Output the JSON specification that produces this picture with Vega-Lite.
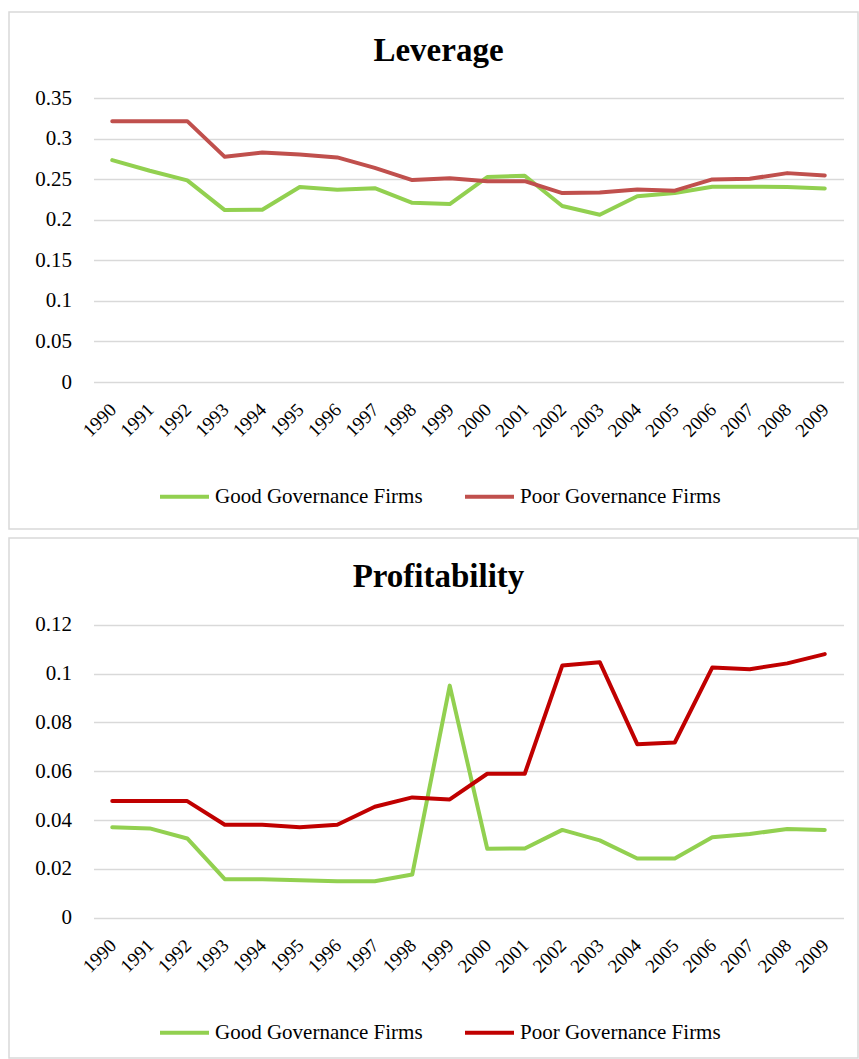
{
  "$schema": "https://vega.github.io/schema/vega-lite/v6.json",
  "padding": {"left": 8, "top": 11, "right": 0, "bottom": 0},
  "background": "white",
  "spacing": 7,
  "config": {
    "font": "Liberation Serif",
    "view": {"stroke": "#d9d9d9", "strokeWidth": 1.5},
    "axis": {"labelFont": "Liberation Serif", "labelColor": "#000000", "domain": false, "ticks": false},
    "legend": {"labelFont": "Liberation Serif", "labelColor": "#000000"},
    "title": {"font": "Liberation Serif", "color": "#000000"}
  },
  "datasets": {
    "leverage": [
      {"Year": "1990", "Group": "Good Governance Firms", "Value": 0.2736},
      {"Year": "1991", "Group": "Good Governance Firms", "Value": 0.2605},
      {"Year": "1992", "Group": "Good Governance Firms", "Value": 0.2486},
      {"Year": "1993", "Group": "Good Governance Firms", "Value": 0.212},
      {"Year": "1994", "Group": "Good Governance Firms", "Value": 0.2125},
      {"Year": "1995", "Group": "Good Governance Firms", "Value": 0.2404},
      {"Year": "1996", "Group": "Good Governance Firms", "Value": 0.237},
      {"Year": "1997", "Group": "Good Governance Firms", "Value": 0.239},
      {"Year": "1998", "Group": "Good Governance Firms", "Value": 0.221},
      {"Year": "1999", "Group": "Good Governance Firms", "Value": 0.2195},
      {"Year": "2000", "Group": "Good Governance Firms", "Value": 0.2528},
      {"Year": "2001", "Group": "Good Governance Firms", "Value": 0.2544},
      {"Year": "2002", "Group": "Good Governance Firms", "Value": 0.217},
      {"Year": "2003", "Group": "Good Governance Firms", "Value": 0.2063},
      {"Year": "2004", "Group": "Good Governance Firms", "Value": 0.229},
      {"Year": "2005", "Group": "Good Governance Firms", "Value": 0.233},
      {"Year": "2006", "Group": "Good Governance Firms", "Value": 0.2408},
      {"Year": "2007", "Group": "Good Governance Firms", "Value": 0.2408},
      {"Year": "2008", "Group": "Good Governance Firms", "Value": 0.2404},
      {"Year": "2009", "Group": "Good Governance Firms", "Value": 0.2387},
      {"Year": "1990", "Group": "Poor Governance Firms", "Value": 0.3217},
      {"Year": "1991", "Group": "Poor Governance Firms", "Value": 0.3217},
      {"Year": "1992", "Group": "Poor Governance Firms", "Value": 0.3217},
      {"Year": "1993", "Group": "Poor Governance Firms", "Value": 0.2777},
      {"Year": "1994", "Group": "Poor Governance Firms", "Value": 0.283},
      {"Year": "1995", "Group": "Poor Governance Firms", "Value": 0.2806},
      {"Year": "1996", "Group": "Poor Governance Firms", "Value": 0.277},
      {"Year": "1997", "Group": "Poor Governance Firms", "Value": 0.264},
      {"Year": "1998", "Group": "Poor Governance Firms", "Value": 0.249},
      {"Year": "1999", "Group": "Poor Governance Firms", "Value": 0.2514},
      {"Year": "2000", "Group": "Poor Governance Firms", "Value": 0.2477},
      {"Year": "2001", "Group": "Poor Governance Firms", "Value": 0.2477},
      {"Year": "2002", "Group": "Poor Governance Firms", "Value": 0.233},
      {"Year": "2003", "Group": "Poor Governance Firms", "Value": 0.2338},
      {"Year": "2004", "Group": "Poor Governance Firms", "Value": 0.2375},
      {"Year": "2005", "Group": "Poor Governance Firms", "Value": 0.236},
      {"Year": "2006", "Group": "Poor Governance Firms", "Value": 0.2498},
      {"Year": "2007", "Group": "Poor Governance Firms", "Value": 0.2506},
      {"Year": "2008", "Group": "Poor Governance Firms", "Value": 0.2576},
      {"Year": "2009", "Group": "Poor Governance Firms", "Value": 0.2547}
    ],
    "profitability": [
      {"Year": "1990", "Group": "Good Governance Firms", "Value": 0.0371},
      {"Year": "1991", "Group": "Good Governance Firms", "Value": 0.0366},
      {"Year": "1992", "Group": "Good Governance Firms", "Value": 0.0325},
      {"Year": "1993", "Group": "Good Governance Firms", "Value": 0.0158},
      {"Year": "1994", "Group": "Good Governance Firms", "Value": 0.0158},
      {"Year": "1995", "Group": "Good Governance Firms", "Value": 0.0154},
      {"Year": "1996", "Group": "Good Governance Firms", "Value": 0.015},
      {"Year": "1997", "Group": "Good Governance Firms", "Value": 0.015},
      {"Year": "1998", "Group": "Good Governance Firms", "Value": 0.0177},
      {"Year": "1999", "Group": "Good Governance Firms", "Value": 0.0951},
      {"Year": "2000", "Group": "Good Governance Firms", "Value": 0.0283},
      {"Year": "2001", "Group": "Good Governance Firms", "Value": 0.0284},
      {"Year": "2002", "Group": "Good Governance Firms", "Value": 0.036},
      {"Year": "2003", "Group": "Good Governance Firms", "Value": 0.0317},
      {"Year": "2004", "Group": "Good Governance Firms", "Value": 0.0243},
      {"Year": "2005", "Group": "Good Governance Firms", "Value": 0.0243},
      {"Year": "2006", "Group": "Good Governance Firms", "Value": 0.033},
      {"Year": "2007", "Group": "Good Governance Firms", "Value": 0.0343},
      {"Year": "2008", "Group": "Good Governance Firms", "Value": 0.0364},
      {"Year": "2009", "Group": "Good Governance Firms", "Value": 0.036},
      {"Year": "1990", "Group": "Poor Governance Firms", "Value": 0.0478},
      {"Year": "1991", "Group": "Poor Governance Firms", "Value": 0.0478},
      {"Year": "1992", "Group": "Poor Governance Firms", "Value": 0.0478},
      {"Year": "1993", "Group": "Poor Governance Firms", "Value": 0.0381},
      {"Year": "1994", "Group": "Poor Governance Firms", "Value": 0.0381},
      {"Year": "1995", "Group": "Poor Governance Firms", "Value": 0.0371},
      {"Year": "1996", "Group": "Poor Governance Firms", "Value": 0.0381},
      {"Year": "1997", "Group": "Poor Governance Firms", "Value": 0.0455},
      {"Year": "1998", "Group": "Poor Governance Firms", "Value": 0.0493},
      {"Year": "1999", "Group": "Poor Governance Firms", "Value": 0.0485},
      {"Year": "2000", "Group": "Poor Governance Firms", "Value": 0.059},
      {"Year": "2001", "Group": "Poor Governance Firms", "Value": 0.059},
      {"Year": "2002", "Group": "Poor Governance Firms", "Value": 0.1033},
      {"Year": "2003", "Group": "Poor Governance Firms", "Value": 0.1047},
      {"Year": "2004", "Group": "Poor Governance Firms", "Value": 0.0711},
      {"Year": "2005", "Group": "Poor Governance Firms", "Value": 0.0718},
      {"Year": "2006", "Group": "Poor Governance Firms", "Value": 0.1025},
      {"Year": "2007", "Group": "Poor Governance Firms", "Value": 0.1018},
      {"Year": "2008", "Group": "Poor Governance Firms", "Value": 0.1042},
      {"Year": "2009", "Group": "Poor Governance Firms", "Value": 0.108}
    ]
  },
  "vconcat": [
    {
      "width": 849,
      "height": 517,
      "data": {"name": "leverage"},
      "title": {"text": "Leverage", "font": "Liberation Serif", "fontSize": 33, "fontWeight": "bold", "anchor": "middle", "baseline": "alphabetic", "offset": -82, "dx": 5},
      "mark": {"type": "line", "strokeWidth": 4, "strokeCap": "round", "strokeJoin": "round"},
      "encoding": {
        "x": {
          "field": "Year", "type": "ordinal",
          "scale": {"type": "point", "padding": 0.5, "range": [84.5, 834.5]},
          "axis": {"title": null, "labelFont": "Liberation Serif", "labelColor": "#000000", "labelAngle": -45, "labelFontSize": 19, "labelPadding": 18, "labelOffset": -6, "offset": -147, "grid": false, "labelOverlap": false}
        },
        "y": {
          "field": "Value", "type": "quantitative",
          "scale": {"domain": [0, 0.35], "range": [370, 86.2], "nice": false},
          "axis": {"title": null, "labelFont": "Liberation Serif", "labelColor": "#000000", "values": [0, 0.05, 0.1, 0.15, 0.2, 0.25, 0.3, 0.35], "format": ".2~f", "labelFontSize": 21, "labelPadding": 22, "offset": -84.5, "grid": true, "gridColor": "#d9d9d9", "gridWidth": 1.3}
        },
        "color": {
          "field": "Group", "type": "nominal",
          "scale": {"domain": ["Good Governance Firms", "Poor Governance Firms"], "range": ["#92D050", "#C0504D"]},
          "legend": {"title": null, "orient": "none", "direction": "horizontal", "legendX": 149, "legendY": 458, "symbolType": "stroke", "symbolSize": 2401, "symbolStrokeWidth": 4, "labelFont": "Liberation Serif", "labelColor": "#000000", "labelFontSize": 21, "labelLimit": 0, "labelOffset": 4, "columnPadding": 34, "padding": 0}
        }
      }
    },
    {
      "width": 849,
      "height": 520,
      "data": {"name": "profitability"},
      "title": {"text": "Profitability", "font": "Liberation Serif", "fontSize": 33, "fontWeight": "bold", "anchor": "middle", "baseline": "alphabetic", "offset": -82, "dx": 5},
      "mark": {"type": "line", "strokeWidth": 4, "strokeCap": "round", "strokeJoin": "round"},
      "encoding": {
        "x": {
          "field": "Year", "type": "ordinal",
          "scale": {"type": "point", "padding": 0.5, "range": [84.5, 834.5]},
          "axis": {"title": null, "labelFont": "Liberation Serif", "labelColor": "#000000", "labelAngle": -45, "labelFontSize": 19, "labelPadding": 18, "labelOffset": -6, "offset": -140.2, "grid": false, "labelOverlap": false}
        },
        "y": {
          "field": "Value", "type": "quantitative",
          "scale": {"domain": [0, 0.12], "range": [379.8, 86.8], "nice": false},
          "axis": {"title": null, "labelFont": "Liberation Serif", "labelColor": "#000000", "values": [0, 0.02, 0.04, 0.06, 0.08, 0.1, 0.12], "format": ".2~f", "labelFontSize": 21, "labelPadding": 22, "offset": -84.5, "grid": true, "gridColor": "#d9d9d9", "gridWidth": 1.3}
        },
        "color": {
          "field": "Group", "type": "nominal",
          "scale": {"domain": ["Good Governance Firms", "Poor Governance Firms"], "range": ["#92D050", "#C00000"]},
          "legend": {"title": null, "orient": "none", "direction": "horizontal", "legendX": 149, "legendY": 468, "symbolType": "stroke", "symbolSize": 2401, "symbolStrokeWidth": 4, "labelFont": "Liberation Serif", "labelColor": "#000000", "labelFontSize": 21, "labelLimit": 0, "labelOffset": 4, "columnPadding": 34, "padding": 0}
        }
      }
    }
  ],
  "resolve": {"scale": {"color": "independent", "x": "independent", "y": "independent"}}
}
